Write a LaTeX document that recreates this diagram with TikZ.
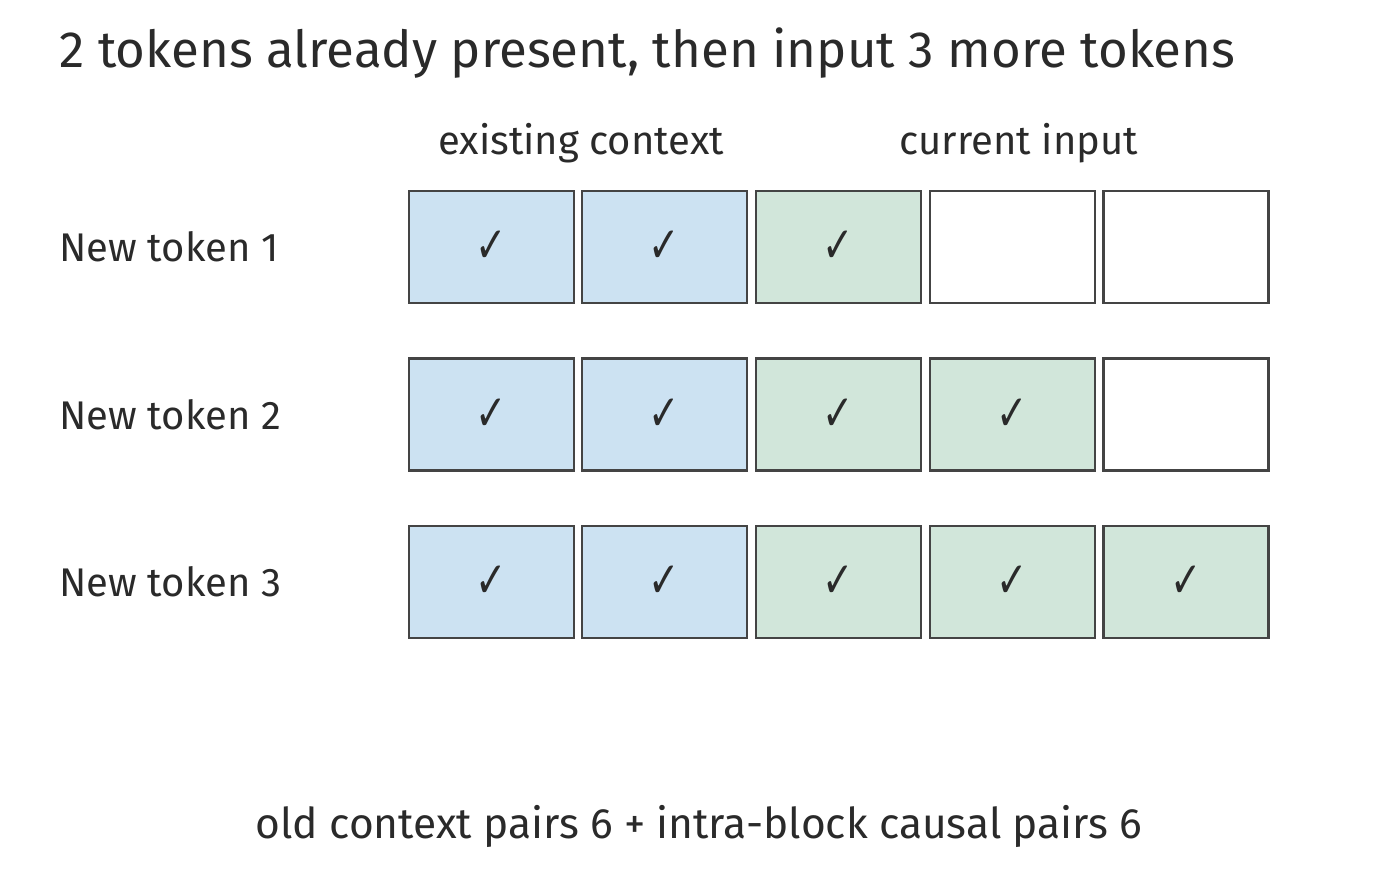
\documentclass[tikz,border=0pt]{standalone}
\usepackage{fontspec}
\setmainfont{Fira Sans}
\newfontfamily\symf{DejaVu Sans}
\definecolor{bluec}{HTML}{CCE2F2}
\definecolor{greenc}{HTML}{D1E6DA}
\definecolor{edgec}{HTML}{444444}
\definecolor{txt}{HTML}{2A2A2A}
\begin{document}
\begin{tikzpicture}[x=1pt,y=-1pt,
  cell/.style={draw=edgec,line width=2.6pt,minimum width=165pt,minimum height=112pt,inner sep=0pt,font=\symf\fontsize{50}{50}\selectfont,text=txt},
  lab/.style={font=\fontsize{40}{40}\selectfont,text=txt,anchor=west},
  hdr/.style={font=\fontsize{40}{40}\selectfont,text=txt}]
\useasboundingbox (0,0) rectangle (1400,892);
\node[font=\fontsize{51}{51}\selectfont,text=txt,anchor=west] (title) at (56,53) {2 tokens already present, then input 3 more tokens};
\node[hdr] (h1) at (581,143) {existing context};
\node[hdr] (h2) at (1019,143) {current input};
\foreach \r/\y in {1/247,2/414.5,3/582}{
  \node[lab] (l\r) at (56,\y) {New token \r};
}
\foreach \r/\y in {1/247,2/414.5,3/582}{
  \foreach \c/\x in {1/491.5,2/664.5,3/838.5,4/1012.5,5/1186}{
    \pgfmathtruncatemacro{\lim}{\r+2}
    \ifnum\c<3
      \node[cell,fill=bluec] (c\r\c) at (\x,\y) {\raisebox{-4pt}{\scalebox{0.75}[1]{✓}}};
    \else\ifnum\c>\lim
      \node[cell,fill=white] (c\r\c) at (\x,\y) {};
    \else
      \node[cell,fill=greenc] (c\r\c) at (\x,\y) {\raisebox{-4pt}{\scalebox{0.75}[1]{✓}}};
    \fi\fi
  }
}
\node[font=\fontsize{42.5}{42.5}\selectfont,text=txt] (foot) at (699,826) {old context pairs 6 + intra-block causal pairs 6};
\end{tikzpicture}
\end{document}
